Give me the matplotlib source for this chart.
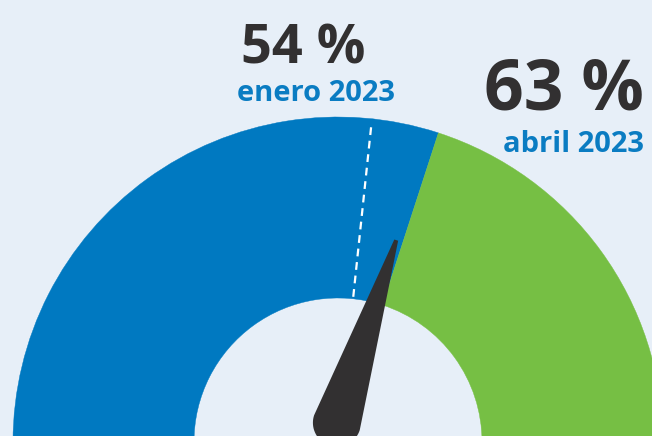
import numpy as np
import matplotlib.pyplot as plt
from matplotlib.patches import Wedge, Polygon

# datos del indicador
periods = ['enero 2023', 'abril 2023']
values = [54, 63]
value_labels = ['54 %', '63 %']

# escala del semicírculo (como en la infografía original)
scale_lo, scale_hi = -18, 117

bg = '#E7EFF8'
blue = '#0079C1'
green = '#76BF44'
dark = '#323031'
text_blue = '#0A7CC2'

r_out, r_in = 325, 144


def angle(v):
    return 180.0 * (scale_hi - v) / (scale_hi - scale_lo)


plt.rcParams['font.family'] = ['Open Sans', 'DejaVu Sans']

fig = plt.figure(figsize=(6.52, 4.36), dpi=100, facecolor=bg)
ax = fig.add_axes([0, 0, 1, 1])
ax.set_facecolor(bg)
ax.set_xlim(-338, 314)
ax.set_ylim(6, 442)
ax.set_aspect('equal')
ax.axis('off')

prev, cur = values
# parte azul: del inicio de la escala al valor actual
ax.add_patch(Wedge((0, 0), r_out, angle(cur), angle(scale_lo), width=r_out - r_in,
                   facecolor=blue, edgecolor=blue, lw=0.3))
# parte verde: el resto
ax.add_patch(Wedge((0, 0), r_out, angle(scale_hi), angle(cur), width=r_out - r_in,
                   facecolor=green, edgecolor=green, lw=0.3))

# línea discontinua del valor anterior
a = np.radians(angle(prev))
rr = np.array([r_in + 2, r_out - 3])
ax.plot(rr * np.cos(a), rr * np.sin(a), color='white', lw=1.6,
        linestyle=(0, (3.5, 2.6)), solid_capstyle='butt', zorder=3)

# aguja
a = np.radians(angle(cur))
u = np.array([np.cos(a), np.sin(a)])
n = np.array([-np.sin(a), np.cos(a)])
shift = 7 * n
tip = 210 * u + shift
base = 18 * u + shift
rb = 24
phi = np.linspace(a - np.pi / 2, a - 3 * np.pi / 2, 40)
arc = np.column_stack([base[0] + rb * np.cos(phi), base[1] + rb * np.sin(phi)])
pts = np.vstack([tip + 2.0 * n, tip - 2.0 * n, arc])
ax.add_patch(Polygon(pts, closed=True, facecolor=dark, edgecolor='none', zorder=4))

# textos
ax.text(-97, 378, value_labels[0], fontsize=39, fontweight='bold', color=dark,
        ha='left', va='baseline')
ax.text(-101, 341, periods[0], fontsize=21, fontweight='bold', color=text_blue,
        ha='left', va='baseline')
ax.text(306, 333, value_labels[1], fontsize=50, fontweight='bold', color=dark,
        ha='right', va='baseline')
ax.text(306, 290, periods[1], fontsize=21, fontweight='bold', color=text_blue,
        ha='right', va='baseline')

fig.savefig('out.png', dpi=100, facecolor=bg)
